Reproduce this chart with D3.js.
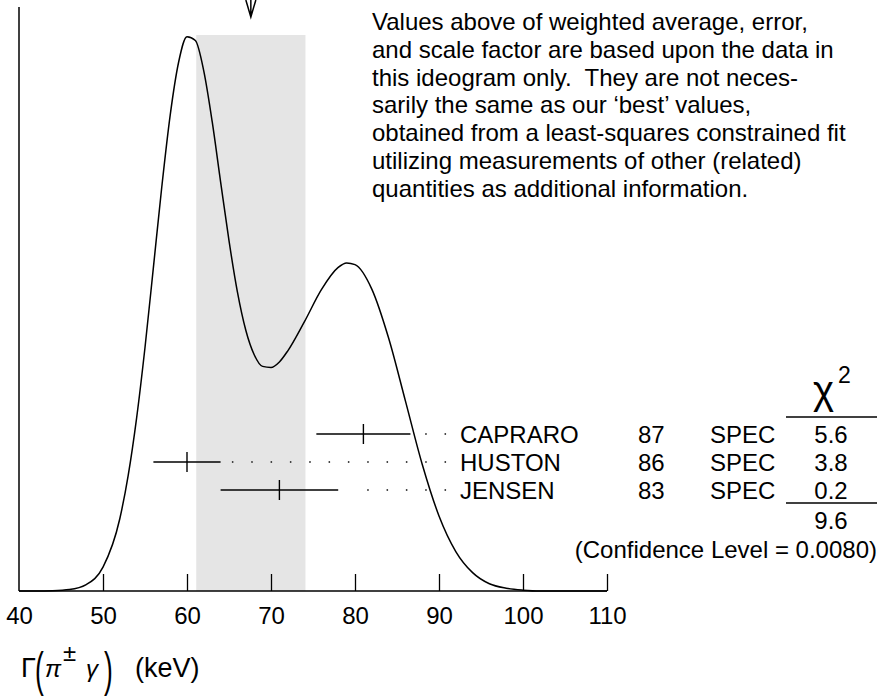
<!DOCTYPE html>
<html>
<head>
<meta charset="utf-8">
<script src="https://cdn.jsdelivr.net/npm/d3@7"></script>
<style>
  html, body { margin: 0; padding: 0; background: #fff; }
  svg { display: block; }
  text { font-family: "Liberation Sans", Arial, Helvetica, sans-serif; fill: #000; }
</style>
</head>
<body>
<svg id="chart" width="878" height="700"></svg>
<script>
// ---- data ----
const xTicks = [40, 50, 60, 70, 80, 90, 100, 110];
const names = ["CAPRARO", "HUSTON", "JENSEN"];
const years = ["87", "86", "83"];
const techs = ["SPEC", "SPEC", "SPEC"];
const values = [81, 60, 71];
const errors = [5.6, 4.0, 7.0];
const chi2 = ["5.6", "3.8", "0.2"];
const chi2Total = "9.6";
const confidence = "(Confidence Level = 0.0080)";
const weightedAverage = 67.6;
const weightedError = 6.5;
// ideogram curve, relative height (peak = 1)
const curveX = [40, 42, 44, 46, 48, 50, 52, 53, 54, 55, 56, 57, 58, 59, 60, 61, 62, 63, 64, 65, 66, 67, 68, 69, 70, 71, 72, 74, 76, 78, 79, 80, 82, 84, 86, 88, 90, 92, 94, 96, 98, 100, 102, 110];
const curveY = [0, 0, 0.0005, 0.0025, 0.0115, 0.043, 0.13, 0.208, 0.311, 0.438, 0.582, 0.727, 0.856, 0.951, 0.997, 0.990, 0.935, 0.844, 0.736, 0.630, 0.538, 0.469, 0.425, 0.404, 0.402, 0.412, 0.432, 0.485, 0.542, 0.582, 0.590, 0.587, 0.543, 0.455, 0.342, 0.228, 0.135, 0.071, 0.033, 0.013, 0.005, 0.0015, 0, 0];
const paragraph = [
  "Values above of weighted average, error,",
  "and scale factor are based upon the data in",
  "this ideogram only.  They are not neces-",
  "sarily the same as our \u2018best\u2019 values,",
  "obtained from a least-squares constrained fit",
  "utilizing measurements of other (related)",
  "quantities as additional information."
];

// ---- layout ----
const svg = d3.select("#chart");
const x = d3.scaleLinear().domain([40, 110]).range([19, 607]);
const y = d3.scaleLinear().domain([0, 1]).range([591, 35]);
const rowY = d3.scaleLinear().domain([0, 1]).range([434, 462]);
const FS = 24;

// weighted-average band
svg.append("rect")
  .attr("x", x(weightedAverage - weightedError))
  .attr("y", y(1))
  .attr("width", x(weightedAverage + weightedError) - x(weightedAverage - weightedError))
  .attr("height", y(0) - y(1))
  .attr("fill", "#e5e5e5");

// arrow at top
const ax = x(weightedAverage);
svg.append("path")
  .attr("d", `M${ax - 5},0 L${ax},17 L${ax + 5},0 M${ax},0 L${ax},17`)
  .attr("fill", "none").attr("stroke", "#000").attr("stroke-width", 1.5);

// axes
const xAxis = d3.axisBottom(x).tickValues(xTicks).tickSize(0).tickPadding(0).tickFormat(d3.format("d"));
const gx = svg.append("g").attr("transform", `translate(0,${y(0)})`).call(xAxis);
gx.select(".domain").remove();
gx.selectAll(".tick text").attr("font-size", FS).attr("dy", null).attr("y", 33)
  .attr("font-family", '"Liberation Sans", Arial, sans-serif');
gx.append("line").attr("x1", x(40)).attr("x2", x(110)).attr("y1", 0).attr("y2", 0)
  .attr("stroke", "#000").attr("stroke-width", 1.5);
gx.selectAll(".tick").filter(d => d !== 40).append("line")
  .attr("y1", 0).attr("y2", -17).attr("stroke", "#000").attr("stroke-width", 1.3);
svg.append("line").attr("x1", x(40)).attr("x2", x(40)).attr("y1", 7).attr("y2", y(0))
  .attr("stroke", "#000").attr("stroke-width", 1.5);

// ideogram curve
const pts = curveX.map((d, i) => [d, curveY[i]]);
svg.append("path").datum(pts)
  .attr("d", d3.line().x(d => x(d[0])).y(d => y(d[1])).curve(d3.curveMonotoneX))
  .attr("fill", "none").attr("stroke", "#000").attr("stroke-width", 1.5);

// measurements
const labelX = 460;
const dotStep = 19.33;
names.forEach((n, i) => {
  const yy = rowY(i);
  const lo = x(values[i] - errors[i]), hi = x(values[i] + errors[i]);
  svg.append("line").attr("x1", lo).attr("x2", hi).attr("y1", yy).attr("y2", yy)
    .attr("stroke", "#000").attr("stroke-width", 1.4);
  svg.append("line").attr("x1", x(values[i])).attr("x2", x(values[i]))
    .attr("y1", yy - 10).attr("y2", yy + 10).attr("stroke", "#000").attr("stroke-width", 1.4);
  const dots = [];
  for (let p = labelX - 14.7; p > hi + 12; p -= dotStep) dots.push(p);
  svg.selectAll(null).data(dots).enter().append("circle")
    .attr("cx", d => d).attr("cy", yy).attr("r", 0.9).attr("fill", "#333");
  const by = yy + 9;
  svg.append("text").attr("x", labelX).attr("y", by).attr("font-size", FS).text(n);
  svg.append("text").attr("x", 638).attr("y", by).attr("font-size", FS).text(years[i]);
  svg.append("text").attr("x", 710).attr("y", by).attr("font-size", FS).text(techs[i]);
  svg.append("text").attr("x", 831).attr("y", by).attr("font-size", FS)
    .attr("text-anchor", "middle").text(chi2[i]);
});

// chi2 header and sum lines
svg.append("text").attr("x", 813).attr("y", 404).attr("font-size", 40)
  .attr("font-family", '"DejaVu Serif", "Liberation Serif", serif').text("\u03c7");
svg.append("text").attr("x", 838).attr("y", 383).attr("font-size", 23).text("2");
svg.append("line").attr("x1", 786).attr("x2", 877).attr("y1", 417).attr("y2", 417)
  .attr("stroke", "#000").attr("stroke-width", 1.3);
svg.append("line").attr("x1", 786).attr("x2", 877).attr("y1", 503).attr("y2", 503)
  .attr("stroke", "#000").attr("stroke-width", 1.3);
svg.append("text").attr("x", 831).attr("y", 529).attr("font-size", FS)
  .attr("text-anchor", "middle").text(chi2Total);
svg.append("text").attr("x", 877).attr("y", 558).attr("font-size", FS)
  .attr("text-anchor", "end").text(confidence);

// explanatory paragraph
svg.append("g").selectAll("text").data(paragraph).enter().append("text")
  .attr("x", 372).attr("y", (d, i) => 30 + i * 27.8).attr("font-size", 24)
  .attr("xml:space", "preserve").style("white-space", "pre").text(d => d);

// axis title  Γ(π±γ) (keV)
const t = svg.append("g");
const serif = '"DejaVu Serif", "Liberation Serif", serif';
t.append("text").attr("x", 21).attr("y", 677).attr("font-size", 27).text("\u0393");
t.append("text").attr("x", 35).attr("y", 686).attr("font-size", 48)
  .attr("transform", "translate(35,686) scale(0.55,1) translate(-35,-686)").text("(");
t.append("text").attr("x", 45).attr("y", 677).attr("font-size", 24).attr("font-style", "italic")
  .attr("font-family", serif).text("\u03c0");
t.append("text").attr("x", 63).attr("y", 661).attr("font-size", 24).text("\u00b1");
t.append("text").attr("x", 86).attr("y", 677).attr("font-size", 24).attr("font-style", "italic")
  .attr("font-family", serif).text("\u03b3");
t.append("text").attr("x", 104).attr("y", 686).attr("font-size", 48)
  .attr("transform", "translate(104,686) scale(0.55,1) translate(-104,-686)").text(")");
t.append("text").attr("x", 135).attr("y", 677).attr("font-size", 27).text("(keV)");
</script>
</body>
</html>
